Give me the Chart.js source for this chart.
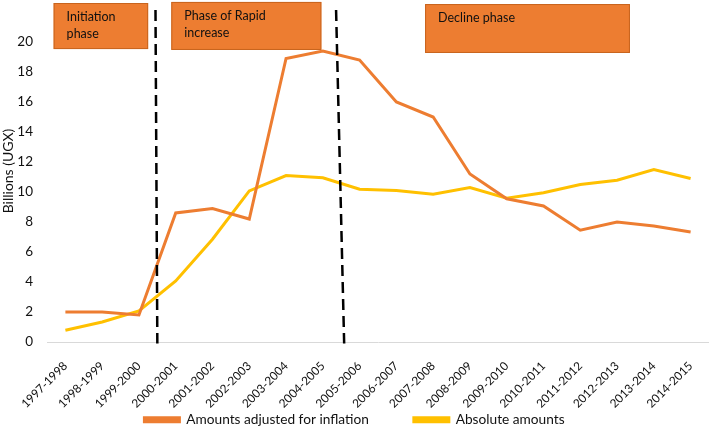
<!DOCTYPE html>
<html>
<head>
<meta charset="utf-8">
<script src="https://cdn.jsdelivr.net/npm/chart.js@4.4.1/dist/chart.umd.min.js"></script>
<style>
html, body { margin: 0; padding: 0; background: #fff; }
#wrap { width: 709px; height: 428px; }
</style>
</head>
<body>
<div id="wrap"><canvas id="chart"></canvas></div>
<script>
var years = ['1997-1998', '1998-1999', '1999-2000', '2000-2001', '2001-2002', '2002-2003',
    '2003-2004', '2004-2005', '2005-2006', '2006-2007', '2007-2008', '2008-2009',
    '2009-2010', '2010-2011', '2011-2012', '2012-2013', '2013-2014', '2014-2015'];

var adjusted = [2.0, 2.0, 1.8, 8.6, 8.9, 8.2, 18.9, 19.4, 18.8, 16.0, 15.0, 11.2,
    9.55, 9.07, 7.45, 8.0, 7.73, 7.33];

var absolute = [0.78, 1.33, 2.07, 4.07, 6.85, 10.07, 11.1, 10.95, 10.18, 10.1, 9.85, 10.3,
    9.58, 9.95, 10.5, 10.78, 11.5, 10.9];

// phase boxes: text lines, x range (category index), y range (value)
var phaseText = [['Initiation', 'phase'], ['Phase of Rapid', 'increase'], ['Decline phase']];
var phaseX = [[-0.32, 2.25], [2.88, 6.96], [9.78, 15.35]];
var phaseY = [[19.53, 22.6], [19.47, 22.67], [19.27, 22.53]];

// dashed dividers: [index at top, index at bottom]
var dividers = [[2.45, 2.5], [7.36, 7.58]];
var dividerY = [22.13, -0.1];

var orange = '#ED7D31';
var yellow = '#FFC000';
var font = 'Lato';
var textColor = '#111';

var phases = {
    id: 'phases',
    afterDatasetsDraw: function (chart) {
        var c = chart.ctx;
        var xs = chart.scales.x;
        var ys = chart.scales.y;

        c.save();
        c.strokeStyle = '#000';
        c.lineWidth = 2.5;
        c.setLineDash([11, 6]);
        dividers.forEach(function (d) {
            c.beginPath();
            c.moveTo(xs.getPixelForValue(d[0]), ys.getPixelForValue(dividerY[0]));
            c.lineTo(xs.getPixelForValue(d[1]), ys.getPixelForValue(dividerY[1]));
            c.stroke();
        });
        c.restore();

        c.save();
        phaseText.forEach(function (lines, i) {
            var x0 = xs.getPixelForValue(phaseX[i][0]);
            var x1 = xs.getPixelForValue(phaseX[i][1]);
            var y0 = ys.getPixelForValue(phaseY[i][1]);
            var y1 = ys.getPixelForValue(phaseY[i][0]);
            c.fillStyle = orange;
            c.fillRect(x0, y0, x1 - x0, y1 - y0);
            c.strokeStyle = '#C8641E';
            c.lineWidth = 1;
            c.strokeRect(x0 + 0.5, y0 + 0.5, x1 - x0 - 1, y1 - y0 - 1);
            c.fillStyle = textColor;
            c.font = '12.5px ' + font;
            c.textBaseline = 'middle';
            lines.forEach(function (t, j) {
                c.fillText(t, x0 + 13, y0 + 14 + j * 17);
            });
        });
        c.restore();
    }
};

// legend sits lower than its layout box
var legendPlace = {
    id: 'legendPlace',
    afterLayout: function (chart) {
        var lg = chart.legend;
        lg.top = 413 - lg.options.labels.padding;
    }
};

var ctx = document.getElementById('chart').getContext('2d');
var chart = new Chart(ctx, {
    type: 'line',
    data: {
        labels: years,
        datasets: [{
            label: 'Amounts adjusted for inflation',
            data: adjusted,
            borderColor: orange,
            backgroundColor: orange,
            borderWidth: 3,
            pointRadius: 0,
            tension: 0
        }, {
            label: 'Absolute amounts',
            data: absolute,
            borderColor: yellow,
            backgroundColor: yellow,
            borderWidth: 3,
            pointRadius: 0,
            tension: 0
        }]
    },
    options: {
        responsive: true,
        maintainAspectRatio: false,
        animation: false,
        layout: { padding: 0 },
        plugins: {
            legend: {
                position: 'bottom',
                align: 'center',
                maxHeight: 14,
                labels: {
                    boxWidth: 35,
                    boxHeight: 4,
                    padding: 45,
                    color: textColor,
                    font: { family: font, size: 13.7 }
                }
            },
            tooltip: { enabled: false }
        },
        scales: {
            x: {
                offset: true,
                grid: { display: false },
                border: { display: true, color: '#d9d9d9', width: 1 },
                afterFit: function (scale) {
                    scale.height = 72;
                    scale.paddingLeft = 0;
                    scale.paddingRight = 0;
                },
                ticks: {
                    minRotation: 45,
                    maxRotation: 45,
                    autoSkip: false,
                    padding: 9,
                    color: textColor,
                    font: { family: font, size: 11.8 }
                }
            },
            y: {
                min: 0,
                max: 22.8,
                grid: { display: false, drawTicks: false },
                border: { display: false },
                afterBuildTicks: function (scale) {
                    scale.ticks = scale.ticks.filter(function (t) { return t.value <= 20; });
                },
                afterFit: function (scale) {
                    scale.width = 47;
                    scale.paddingTop = 0;
                    scale.paddingBottom = 0;
                },
                ticks: {
                    stepSize: 2,
                    padding: 14,
                    color: textColor,
                    font: { family: font, size: 13.5 }
                },
                title: {
                    display: true,
                    text: 'Billions (UGX)',
                    color: textColor,
                    padding: 0,
                    font: { family: font, size: 14 }
                }
            }
        }
    },
    plugins: [phases, legendPlace]
});
</script>
</body>
</html>
